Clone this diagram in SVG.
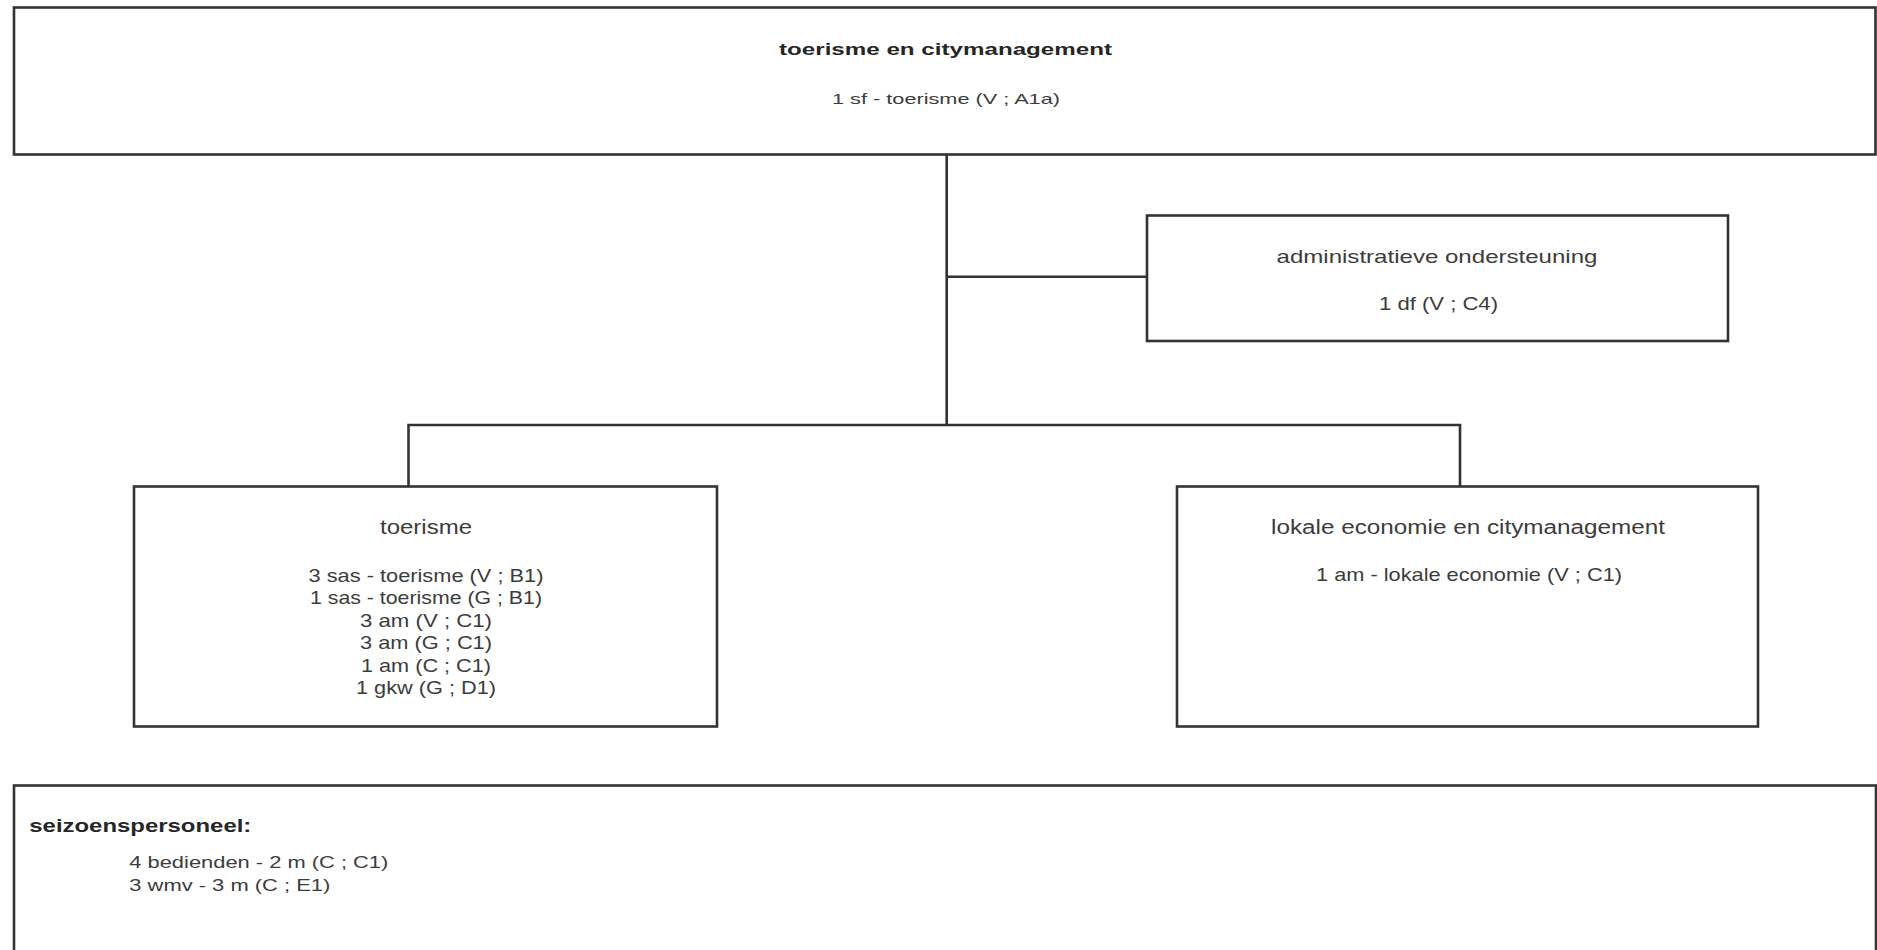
<svg xmlns="http://www.w3.org/2000/svg" width="1877" height="950" viewBox="0 0 1877 950">
  <style>
    .box { fill: #ffffff; stroke: #333333; stroke-width: 2.6; }
    .conn { fill: none; stroke: #333333; stroke-width: 2.6; }
    text { font-family: "Liberation Sans", Arial, sans-serif; fill: #3c3c3c; }
    .c { text-anchor: middle; }
    .b { font-weight: bold; fill: #262626; }
  </style>
  <rect width="1877" height="950" fill="#ffffff"/>

  <g id="connectors">
    <path class="conn" d="M946.7,155 V425"/>
    <path class="conn" d="M946.7,276.7 H1147"/>
    <path class="conn" d="M408.5,486.5 V425 H1460 V486.5"/>
  </g>

  <g id="node-top">
    <rect class="box" x="14" y="7.5" width="1861.5" height="147"/>
    <text class="c b" x="945.5" y="55" font-size="17" textLength="333" lengthAdjust="spacingAndGlyphs">toerisme en citymanagement</text>
    <text class="c" x="946" y="104" font-size="15" textLength="228" lengthAdjust="spacingAndGlyphs">1 sf - toerisme (V ; A1a)</text>
  </g>

  <g id="node-admin">
    <rect class="box" x="1147" y="215.5" width="581" height="125.5"/>
    <text class="c" x="1437" y="263" font-size="19" textLength="321" lengthAdjust="spacingAndGlyphs">administratieve ondersteuning</text>
    <text class="c" x="1438.5" y="310" font-size="18" textLength="119" lengthAdjust="spacingAndGlyphs">1 df (V ; C4)</text>
  </g>

  <g id="node-toerisme">
    <rect class="box" x="134" y="486.5" width="583" height="240"/>
    <text class="c" x="426" y="533.5" font-size="20" textLength="92" lengthAdjust="spacingAndGlyphs">toerisme</text>
    <text class="c" x="426" y="581.7" font-size="19" textLength="235" lengthAdjust="spacingAndGlyphs">3 sas - toerisme (V ; B1)</text>
    <text class="c" x="426" y="604.2" font-size="19" textLength="232" lengthAdjust="spacingAndGlyphs">1 sas - toerisme (G ; B1)</text>
    <text class="c" x="426" y="626.7" font-size="19" textLength="132" lengthAdjust="spacingAndGlyphs">3 am (V ; C1)</text>
    <text class="c" x="426" y="649.2" font-size="19" textLength="132" lengthAdjust="spacingAndGlyphs">3 am (G ; C1)</text>
    <text class="c" x="426" y="671.7" font-size="19" textLength="130" lengthAdjust="spacingAndGlyphs">1 am (C ; C1)</text>
    <text class="c" x="426" y="694.2" font-size="19" textLength="140" lengthAdjust="spacingAndGlyphs">1 gkw (G ; D1)</text>
  </g>

  <g id="node-lokale">
    <rect class="box" x="1177" y="486.5" width="581" height="240"/>
    <text class="c" x="1468" y="534" font-size="20" textLength="394" lengthAdjust="spacingAndGlyphs">lokale economie en citymanagement</text>
    <text class="c" x="1469" y="581" font-size="19" textLength="306" lengthAdjust="spacingAndGlyphs">1 am - lokale economie (V ; C1)</text>
  </g>

  <g id="node-seizoen">
    <rect class="box" x="14" y="785.5" width="1862" height="180"/>
    <text class="b" x="29.3" y="831.7" font-size="19" textLength="222" lengthAdjust="spacingAndGlyphs">seizoenspersoneel:</text>
    <text x="129.3" y="868.3" font-size="17" textLength="259" lengthAdjust="spacingAndGlyphs">4 bedienden - 2 m (C ; C1)</text>
    <text x="129.3" y="890.7" font-size="17" textLength="201" lengthAdjust="spacingAndGlyphs">3 wmv - 3 m (C ; E1)</text>
  </g>
</svg>
